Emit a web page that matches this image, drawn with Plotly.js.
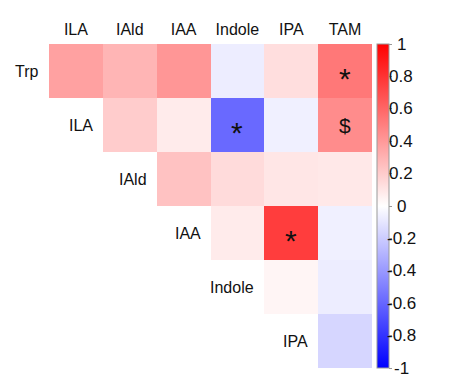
<!DOCTYPE html>
<html>
<head>
<meta charset="utf-8">
<script src="https://cdn.plot.ly/plotly-3.0.1.min.js"></script>
<style>html,body{margin:0;padding:0;background:#fff;}#chart{width:449px;height:384px;}</style>
</head>
<body>
<div id="chart"></div>
<script>
// Column (x) and row (y) variables
const columns = ['ILA', 'IAld', 'IAA', 'Indole', 'IPA', 'TAM'];
const rows = ['Trp', 'ILA', 'IAld', 'IAA', 'Indole', 'IPA'];

// Correlation values (upper triangle, null = blank)
const rowTrp    = [0.37, 0.29, 0.41, -0.07, 0.13, 0.53];
const rowILA    = [null, 0.20, 0.08, -0.59, -0.06, 0.45];
const rowIAld   = [null, null, 0.24, 0.14, 0.10, 0.09];
const rowIAA    = [null, null, null, 0.08, 0.76, -0.06];
const rowIndole = [null, null, null, null, 0.04, -0.07];
const rowIPA    = [null, null, null, null, null, -0.16];

// Significance marks [row, column, symbol]
const marks = [
  ['Trp', 'TAM', '*'],
  ['ILA', 'Indole', '*'],
  ['ILA', 'TAM', '$'],
  ['IAA', 'IPA', '*']
];

const colorbarTicks = [1, 0.8, 0.6, 0.4, 0.2, 0, -0.2, -0.4, -0.6, -0.8, -1];
const zMin = -1, zMax = 1;

const z = [rowTrp, rowILA, rowIAld, rowIAA, rowIndole, rowIPA];
const font = 'Liberation Sans, Arial, sans-serif';

const trace = {
  type: 'heatmap',
  x: columns,
  y: rows,
  z: z,
  zmin: zMin, zmax: zMax,
  colorscale: [[0, 'rgb(0,0,255)'], [0.5, 'rgb(255,255,255)'], [1, 'rgb(255,0,0)']],
  hoverongaps: false,
  colorbar: {
    x: 1.0155, xanchor: 'left', xpad: 0,
    y: 0.5, yanchor: 'middle', ypad: 0,
    len: 1, lenmode: 'fraction',
    thickness: 12,
    outlinecolor: '#999', outlinewidth: 1,
    tickvals: colorbarTicks,
    ticks: 'outside', ticklen: 3, tickcolor: '#999', tickwidth: 1,
    showticklabels: false
  }
};

const annotations = [];
rows.forEach((r, i) => {
  annotations.push({
    x: i - 0.5, y: r, xref: 'x', yref: 'y',
    text: r, showarrow: false, xanchor: 'right', xshift: -8,
    font: {family: font, size: 16, color: '#111'}
  });
});
marks.forEach(m => {
  annotations.push({
    x: m[1], y: m[0], xref: 'x', yref: 'y',
    text: m[2], showarrow: false,
    yshift: m[2] === '*' ? -7 : 0,
    font: {family: font, size: m[2] === '*' ? 30 : 21, color: '#111'}
  });
});
// centred colour-bar labels
colorbarTicks.forEach(v => {
  annotations.push({
    x: 1.0898, xref: 'paper', xanchor: 'center',
    y: (v - zMin) / (zMax - zMin), yref: 'paper', yanchor: 'middle',
    text: String(v), showarrow: false,
    font: {family: font, size: 17, color: '#111'}
  });
});

const layout = {
  width: 449, height: 384,
  margin: {l: 49, r: 77, t: 44, b: 16, pad: 0},
  paper_bgcolor: '#fff', plot_bgcolor: '#fff',
  xaxis: {
    side: 'top', type: 'category',
    range: [-0.5, 5.5], autorange: false,
    showgrid: false, zeroline: false, showline: false,
    ticks: '', ticklabelstandoff: 5,
    tickfont: {family: font, size: 16, color: '#111'}
  },
  yaxis: {
    type: 'category', range: [5.5, -0.5], autorange: false,
    showgrid: false, zeroline: false, showline: false,
    showticklabels: false, ticks: ''
  },
  annotations: annotations,
  showlegend: false
};

Plotly.newPlot('chart', [trace], layout, {displayModeBar: false, staticPlot: true});
</script>
</body>
</html>
